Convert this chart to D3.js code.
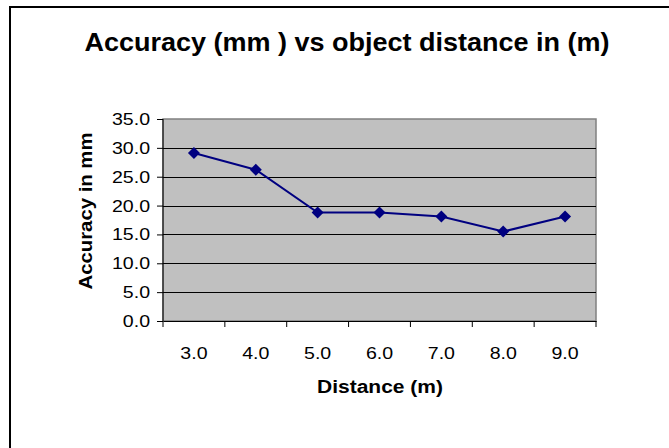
<!DOCTYPE html>
<html><head><meta charset="utf-8">
<script src="https://cdn.jsdelivr.net/npm/d3@7"></script>
<style>body{margin:0;background:#fff}svg{display:block}text{font-family:"Liberation Sans",Arial,sans-serif}</style>
</head><body>
<script>
const categories = ["3.0","4.0","5.0","6.0","7.0","8.0","9.0"];
const accuracy = [29.1, 26.2, 18.8, 18.8, 18.1, 15.5, 18.1];
const yTicks = [0,5,10,15,20,25,30,35];

const W=669,H=448;
const svg=d3.select("body").append("svg").attr("width",W).attr("height",H);
svg.append("rect").attr("x",10).attr("y",7).attr("width",W).attr("height",H).attr("fill","#fff").attr("stroke","#000").attr("stroke-width",2);

const m={l:163,r:596,t:119,b:321};
const x=d3.scaleBand().domain(categories).range([m.l,m.r]);
const y=d3.scaleLinear().domain([0,35]).range([m.b,m.t]);

svg.append("rect").attr("x",m.l).attr("y",m.t).attr("width",m.r-m.l).attr("height",m.b-m.t).attr("fill","#c0c0c0").attr("stroke","#808080").attr("stroke-width",1.5);
svg.append("g").selectAll("line").data(yTicks.filter(d=>d>0&&d<35)).join("line")
 .attr("x1",m.l).attr("x2",m.r).attr("y1",d=>Math.round(y(d))+0.5).attr("y2",d=>Math.round(y(d))+0.5).attr("stroke","#000").attr("stroke-width",1);

const ya=svg.append("g").attr("transform",`translate(${m.l},0)`)
 .call(d3.axisLeft(y).tickValues(yTicks).tickFormat(d3.format(".1f")).tickSize(6).tickPadding(7));
const xa=svg.append("g").attr("transform",`translate(0,${m.b})`)
 .call(d3.axisBottom(x).tickSize(0).tickPadding(26));
svg.append("g").selectAll("line").data(d3.range(categories.length+1)).join("line")
 .attr("x1",i=>m.l+i*x.step()).attr("x2",i=>m.l+i*x.step()).attr("y1",m.b).attr("y2",m.b+6).attr("stroke","#000");
[ya,xa].forEach(g=>{g.select(".domain").attr("stroke","#000");g.selectAll("text").attr("font-size",17).attr("fill","#000")
  .each(function(){const l=this.getComputedTextLength();d3.select(this).attr("textLength",l*1.15).attr("lengthAdjust","spacingAndGlyphs");});
  g.selectAll(".tick line").attr("stroke","#000");});
ya.select(".domain").remove();
svg.append("line").attr("x1",m.l).attr("x2",m.l).attr("y1",m.t).attr("y2",m.b).attr("stroke","#000");

const line=d3.line().x((d,i)=>x(categories[i])+x.bandwidth()/2).y(d=>y(d));
svg.append("path").datum(accuracy).attr("d",line).attr("fill","none").attr("stroke","#000080").attr("stroke-width",2);
svg.append("g").selectAll("path").data(accuracy).join("path")
 .attr("transform",(d,i)=>`translate(${x(categories[i])+x.bandwidth()/2},${y(d)})`)
 .attr("d","M0,-6L6,0L0,6L-6,0Z").attr("fill","#000080");

svg.append("text").attr("x",347).attr("y",51).attr("text-anchor","middle").attr("font-size",25).attr("font-weight","bold")
 .attr("textLength",525).attr("lengthAdjust","spacingAndGlyphs").text("Accuracy (mm ) vs object distance in (m)");
svg.append("text").attr("transform","translate(92,211) rotate(-90)").attr("text-anchor","middle").attr("font-size",18).attr("font-weight","bold")
 .attr("textLength",157).attr("lengthAdjust","spacingAndGlyphs").text("Accuracy in mm");
svg.append("text").attr("x",380).attr("y",393).attr("text-anchor","middle").attr("font-size",18).attr("font-weight","bold")
 .attr("textLength",126).attr("lengthAdjust","spacingAndGlyphs").text("Distance (m)");
</script>
</body></html>
